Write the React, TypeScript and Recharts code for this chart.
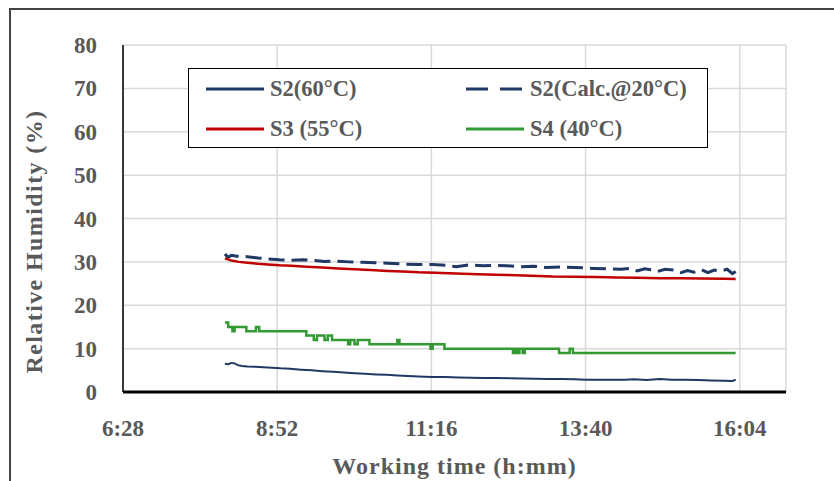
import React from 'react';
import { LineChart, Line, XAxis, YAxis, CartesianGrid, Legend } from 'recharts';

// x values: minutes since midnight
const xTicks = [388.8, 532.8, 676.8, 820.8, 964.8];
const yTicks = [0, 10, 20, 30, 40, 50, 60, 70, 80];

const seriesNames = ['S2(60°C)', 'S2(Calc.@20°C)', 'S3 (55°C)', 'S4 (40°C)'];

const s2Times = [484, 487, 490, 493, 496, 500, 505, 512, 520, 528, 536, 545, 555, 565, 575, 585, 595, 605, 615, 625, 635, 645, 655, 665, 677, 690, 702, 714, 726, 738, 750, 762, 774, 786, 798, 810, 822, 834, 846, 858, 866, 878, 890, 902, 914, 926, 938, 950, 958, 961];
const s2Values = [6.5, 6.4, 6.7, 6.6, 6.2, 6.0, 5.9, 5.8, 5.7, 5.6, 5.45, 5.35, 5.15, 5.0, 4.8, 4.65, 4.5, 4.35, 4.2, 4.05, 3.95, 3.8, 3.7, 3.6, 3.45, 3.45, 3.35, 3.3, 3.2, 3.2, 3.15, 3.1, 3.05, 3.0, 3.0, 2.95, 2.85, 2.8, 2.8, 2.8, 2.95, 2.75, 3.0, 2.85, 2.8, 2.75, 2.65, 2.6, 2.55, 2.85];

const calcTimes = [484, 487, 490, 495, 505, 515, 524, 535, 546, 557, 568, 577, 587, 600, 612, 624, 636, 650, 664, 678, 690, 700, 712, 725, 737, 747, 760, 772, 784, 797, 811, 820, 829, 842, 854, 862, 869, 876, 882, 888, 895, 904, 910, 916, 922, 929, 935, 941, 947, 953, 958, 961];
const calcValues = [31.8, 31.0, 31.5, 31.3, 31.2, 30.9, 30.7, 30.5, 30.4, 30.5, 30.3, 30.1, 30.2, 30.0, 29.9, 29.8, 29.7, 29.5, 29.4, 29.4, 29.2, 28.9, 29.3, 29.1, 29.2, 29.1, 28.9, 29.0, 28.7, 28.8, 28.7, 28.6, 28.5, 28.4, 28.3, 28.5, 27.9, 28.4, 28.2, 27.8, 28.3, 28.1, 27.5, 28.0, 27.6, 28.2, 27.5, 28.1, 27.9, 28.3, 27.3, 27.8];

const s3Times = [484, 490, 497, 505, 515, 524, 535, 546, 560, 575, 590, 605, 620, 636, 650, 665, 680, 700, 720, 747, 770, 790, 810, 830, 850, 870, 890, 910, 930, 950, 961];
const s3Values = [30.8, 30.3, 30.0, 29.8, 29.55, 29.4, 29.2, 29.1, 28.9, 28.7, 28.5, 28.3, 28.1, 27.9, 27.8, 27.6, 27.5, 27.3, 27.15, 27.0, 26.8, 26.6, 26.55, 26.5, 26.4, 26.35, 26.25, 26.2, 26.15, 26.1, 26.05];

const s4Times = [484, 487, 491, 493, 504, 513, 516, 560, 567, 570, 577, 580, 584, 599, 601, 605, 608, 619, 645, 647, 676, 678, 689, 753, 755, 757, 759, 762, 764, 796, 806, 809, 961];
const s4Values = [16, 15, 14, 15, 14, 15, 14, 13, 12, 13, 12, 13, 12, 11, 12, 11, 12, 11, 12, 11, 10, 11, 10, 9, 10, 9, 10, 9, 10, 9, 10, 9, 9];

const toData = (ts: number[], vs: number[]) => ts.map((t, i) => ({ t, v: vs[i] }));
const s2Data = toData(s2Times, s2Values);
const calcData = toData(calcTimes, calcValues);
const s3Data = toData(s3Times, s3Values);
const s4Data = toData(s4Times, s4Values);

const NAVY = '#203864';
const RED = '#C00000';
const GREEN = '#339933';
const TEXT = '#595959';
const FONT = '"Liberation Serif", "Times New Roman", serif';

const legendStyles: Record<string, { color: string; dash?: string }> = {
  [seriesNames[0]]: { color: NAVY },
  [seriesNames[1]]: { color: NAVY, dash: '22 12' },
  [seriesNames[2]]: { color: RED },
  [seriesNames[3]]: { color: GREEN },
};

const fmtTime = (m: number) => {
  const h = Math.floor(m / 60);
  const mm = Math.floor(m % 60 + 1e-6);
  return `${h}:${mm < 10 ? '0' + mm : mm}`;
};

const renderLegend = (props: any) => {
  const items = props.payload || [];
  return (
    <div
      style={{
        width: 520,
        height: 80,
        boxSizing: 'border-box',
        border: '1.5px solid #000',
        background: '#fff',
        position: 'relative',
      }}
    >
      {items.map((it: any, i: number) => {
        const col = i % 2;
        const row = Math.floor(i / 2);
        const st = legendStyles[it.value] || { color: it.color };
        return (
          <div
            key={it.value}
            style={{
              position: 'absolute',
              left: col ? 277 : 17,
              top: (row ? 60 : 20) - 16,
              height: 32,
              display: 'flex',
              alignItems: 'center',
            }}
          >
            <svg width={58} height={6} style={{ display: 'block' }}>
              <line x1={0} y1={3} x2={58} y2={3} stroke={st.color} strokeWidth={3} strokeDasharray={st.dash} />
            </svg>
            <span
              style={{
                marginLeft: 6,
                fontFamily: FONT,
                fontWeight: 700,
                fontSize: 22.5,
                color: TEXT,
                whiteSpace: 'nowrap',
              }}
            >
              {it.value}
            </span>
          </div>
        );
      })}
    </div>
  );
};

const YTick = (props: any) => {
  const { x, y, payload } = props;
  return (
    <text x={x - 20} y={y} dy="0.35em" textAnchor="end" fill={TEXT} fontFamily={FONT} fontWeight={700} fontSize={23}>
      {payload.value}
    </text>
  );
};

const XTick = (props: any) => {
  const { x, y, payload } = props;
  return (
    <text x={x} y={y} dy="0.71em" textAnchor="middle" fill={TEXT} fontFamily={FONT} fontWeight={700} fontSize={23}>
      {fmtTime(payload.value)}
    </text>
  );
};

const YTitle = (props: any) => {
  const vb = props.viewBox || { x: 0, y: 0, width: 0, height: 0 };
  const cx = vb.x + 42;
  const cy = vb.y + vb.height / 2 + 23;
  return (
    <text
      x={cx}
      y={cy}
      textAnchor="middle"
      transform={`rotate(-90, ${cx}, ${cy})`}
      fill={TEXT}
      fontFamily={FONT}
      fontWeight={700}
      fontSize={24}
      letterSpacing={1.4}
    >
      Relative Humidity (%)
    </text>
  );
};

const XTitle = (props: any) => {
  const vb = props.viewBox || { x: 0, y: 0, width: 0, height: 0 };
  const cx = vb.x + vb.width / 2;
  const cy = vb.y + vb.height - 7;
  return (
    <text x={cx} y={cy} textAnchor="middle" fill={TEXT} fontFamily={FONT} fontWeight={700} fontSize={24} letterSpacing={1}>
      Working time (h:mm)
    </text>
  );
};

export default function App() {
  return (
    <div style={{ position: 'absolute', left: 0, top: 0, width: 834, height: 481, overflow: 'hidden', background: '#fff' }}>
      <div
        style={{
          position: 'absolute',
          left: 9,
          top: 8,
          width: 900,
          height: 600,
          borderLeft: '2px solid #444',
          borderTop: '2px solid #444',
        }}
      />
      <div style={{ position: 'absolute', left: 0, top: 0 }}>
        <LineChart width={834} height={481} margin={{ top: 45, right: 48, bottom: 0, left: 0 }}>
          <CartesianGrid stroke="#D9D9D9" strokeWidth={1.5} />
          <XAxis
            dataKey="t"
            type="number"
            domain={[388.8, 1008]}
            ticks={xTicks}
            allowDataOverflow
            height={89}
            axisLine={{ stroke: '#000', strokeWidth: 3 }}
            tickLine={false}
            tickMargin={22}
            tick={<XTick />}
            label={<XTitle />}
          />
          <XAxis
            xAxisId="top"
            orientation="top"
            dataKey="t"
            type="number"
            domain={[388.8, 1008]}
            height={0}
            tick={false}
            tickLine={false}
            axisLine={{ stroke: '#000', strokeWidth: 1.5 }}
          />
          <YAxis
            type="number"
            domain={[0, 80]}
            ticks={yTicks}
            width={123}
            axisLine={{ stroke: '#000', strokeWidth: 1.5 }}
            tickLine={false}
            tickMargin={0}
            tick={<YTick />}
            label={<YTitle />}
          />
          <YAxis
            yAxisId="right"
            orientation="right"
            type="number"
            domain={[0, 80]}
            width={0}
            tick={false}
            tickLine={false}
            axisLine={{ stroke: '#000', strokeWidth: 2 }}
          />
          <Legend
            verticalAlign="middle"
            align="center"
            layout="horizontal"
            content={renderLegend}
            wrapperStyle={{ left: 188, top: 68, width: 520, height: 80 }}
          />
          <Line data={s2Data} dataKey="v" name={seriesNames[0]} type="linear" stroke={NAVY} strokeWidth={2} dot={false} isAnimationActive={false} />
          <Line data={calcData} dataKey="v" name={seriesNames[1]} type="linear" stroke={NAVY} strokeWidth={3} strokeDasharray="16 7" dot={false} isAnimationActive={false} />
          <Line data={s3Data} dataKey="v" name={seriesNames[2]} type="linear" stroke={RED} strokeWidth={2.5} dot={false} isAnimationActive={false} />
          <Line data={s4Data} dataKey="v" name={seriesNames[3]} type="stepAfter" stroke={GREEN} strokeWidth={2.5} dot={false} isAnimationActive={false} />
        </LineChart>
      </div>
    </div>
  );
}
